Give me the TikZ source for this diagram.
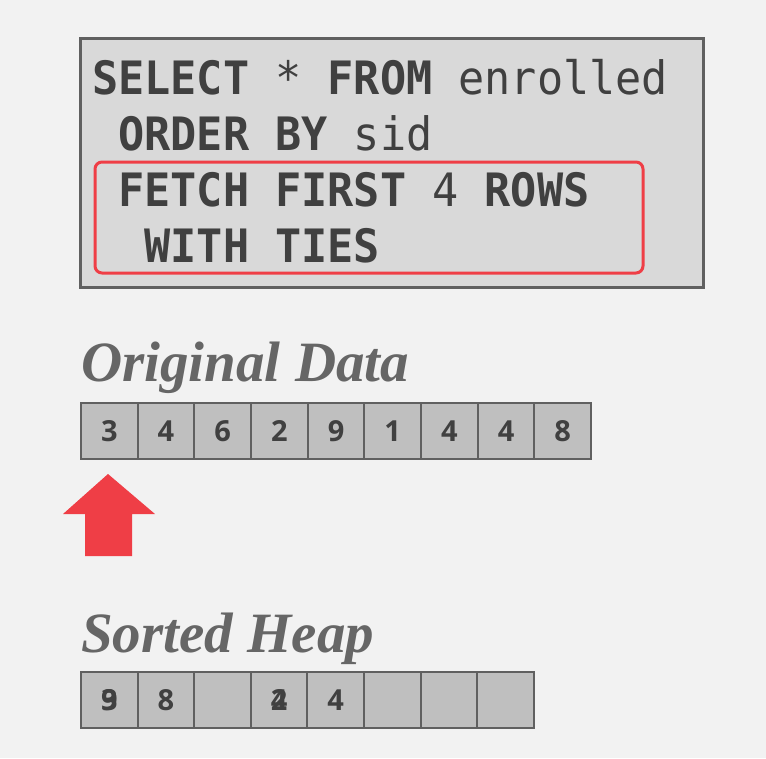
\documentclass[tikz,border=0pt]{standalone}
\usepackage{fontspec}
\newfontfamily\codefont[FakeStretch=0.945]{DejaVu Sans Mono}
\newfontfamily\titlefont{Liberation Serif}
\newfontfamily\digitfont{Open Sans}
\definecolor{bg}{HTML}{F2F2F2}
\definecolor{boxfill}{HTML}{D9D9D9}
\definecolor{edge}{HTML}{606060}
\definecolor{ink}{HTML}{404040}
\definecolor{titleink}{HTML}{666666}
\definecolor{hl}{HTML}{EF3E46}
\definecolor{cellfill}{HTML}{BFBFBF}
\tikzset{
  codeline/.style={anchor=base west, inner sep=0pt, text=ink, font=\codefont\fontsize{46}{50}\selectfont},
  titletext/.style={anchor=base west, inner sep=0pt, text=titleink, font=\titlefont\bfseries\itshape\fontsize{57}{60}\selectfont},
  digit/.style={text=ink, inner sep=0pt, font=\digitfont\bfseries\fontsize{29}{30}\selectfont},
  cell/.style={draw=edge, fill=cellfill, line width=2pt, minimum width=56.7pt, minimum height=56pt, inner sep=0pt, anchor=north west, digit},
  hcell/.style={cell, minimum width=56.6pt}
}
\begin{document}
\begin{tikzpicture}[x=1pt,y=-1pt]
\useasboundingbox (0,0) rectangle (766,758);
\fill[bg] (0,0) rectangle (766,758);
% query box
\draw[edge, fill=boxfill, line width=3pt] (80,38) rectangle (703,287);
\draw[hl, line width=3pt, rounded corners=7pt] (95,162) rectangle (643,273);
\node[codeline] (l1) at (92,94) {\textbf{SELECT} * \textbf{FROM} enrolled};
\node[codeline] (l2) at (92,150) {\ \textbf{ORDER BY} sid};
\node[codeline] (l3) at (92,206) {\ \textbf{FETCH FIRST} 4 \textbf{ROWS}};
\node[codeline] (l4) at (92,262) {\ \ \textbf{WITH TIES}};
% titles
\node[titletext] (t1) at (81,381) {Original Data};
\node[titletext] (t2) at (81,652) {Sorted Heap};
% original data
\foreach \v [count=\i from 0] in {3,4,6,2,9,1,4,4,8} {
  \node[cell] (o\i) at (80+56.67*\i,402) {\v};
}
% arrow
\fill[hl] (108,474) -- (155,514) -- (132,514) -- (132,556) -- (85,556) -- (85,514) -- (63,514) -- cycle;
% sorted heap
\foreach \i in {0,...,7} {
  \node[hcell] (h\i) at (80+56.6*\i,671) {};
}
\node[digit] (h0a) at (h0.center) {3};
\node[digit] (h0b) at (h0.center) {9};
\node[digit] (h1a) at (h1.center) {8};
\node[digit] (h3a) at (h3.center) {4};
\node[digit] (h3b) at (h3.center) {2};
\node[digit] (h4a) at (h4.center) {4};
\end{tikzpicture}
\end{document}
